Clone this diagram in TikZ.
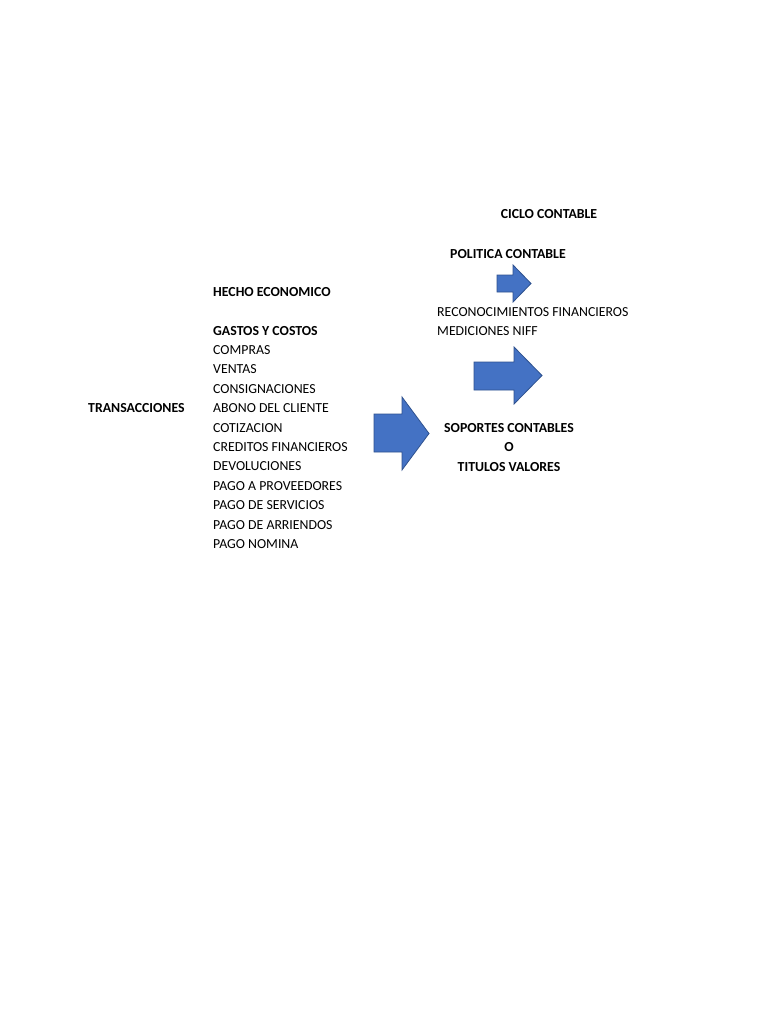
\documentclass[tikz,border=0pt]{standalone}
\usepackage{fontspec}
\setmainfont{Carlito}
\definecolor{arrfill}{HTML}{4472C4}
\definecolor{arrline}{HTML}{2F528F}
\begin{document}
\begin{tikzpicture}[x=1pt,y=-1pt,
  lbl/.style={inner sep=0pt,font=\fontsize{13.8}{16}\selectfont,text=black},
  hb/.style={lbl,font=\fontsize{13.8}{16}\selectfont\bfseries},
  blockarrow/.style={fill=arrfill,draw=arrline,line width=0.8pt,line join=miter}]
\useasboundingbox[fill=white] (0,0) rectangle (768,1024);
% headings
\node[hb,anchor=base] (ciclo) at (549,218.5) {CICLO CONTABLE};
\node[hb,anchor=base] (politica) at (508,258.5) {POLITICA CONTABLE};
\node[hb,anchor=base west] (hecho) at (213,296.5) {HECHO ECONOMICO};
\node[lbl,anchor=base west] (recon) at (437,316.5) {RECONOCIMIENTOS FINANCIEROS};
\node[lbl,anchor=base west] (medic) at (437,335.5) {MEDICIONES NIFF};
\node[hb,anchor=base west] (gastos) at (213,335.5) {GASTOS Y COSTOS};
\node[hb,anchor=base west] (trans) at (88,412.5) {TRANSACCIONES};
% list
\node[lbl,anchor=base west] (i1) at (213,354.5) {COMPRAS};
\node[lbl,anchor=base west] (i2) at (213,373.9) {VENTAS};
\node[lbl,anchor=base west] (i3) at (213,393.3) {CONSIGNACIONES};
\node[lbl,anchor=base west] (i4) at (213,412.7) {ABONO DEL CLIENTE};
\node[lbl,anchor=base west] (i5) at (213,432.1) {COTIZACION};
\node[lbl,anchor=base west] (i6) at (213,451.5) {CREDITOS FINANCIEROS};
\node[lbl,anchor=base west] (i7) at (213,470.9) {DEVOLUCIONES};
\node[lbl,anchor=base west] (i8) at (213,490.3) {PAGO A PROVEEDORES};
\node[lbl,anchor=base west] (i9) at (213,509.7) {PAGO DE SERVICIOS};
\node[lbl,anchor=base west] (i10) at (213,529.1) {PAGO DE ARRIENDOS};
\node[lbl,anchor=base west] (i11) at (213,548.5) {PAGO NOMINA};
% soportes
\node[hb,anchor=base] (sop) at (509,432.5) {SOPORTES CONTABLES};
\node[hb,anchor=base] (o) at (509,451.5) {O};
\node[hb,anchor=base] (tit) at (509,471.5) {TITULOS VALORES};
% arrows
\draw[blockarrow] (497,275) -- (513,275) -- (513,265) -- (531,283.5) -- (513,302) -- (513,292) -- (497,292) -- cycle;
\draw[blockarrow] (474,362) -- (514,362) -- (514,347) -- (542,375.5) -- (514,404) -- (514,390) -- (474,390) -- cycle;
\draw[blockarrow] (374,414) -- (402,414) -- (402,397) -- (429,433.5) -- (402,470) -- (402,452) -- (374,452) -- cycle;
\end{tikzpicture}
\end{document}
